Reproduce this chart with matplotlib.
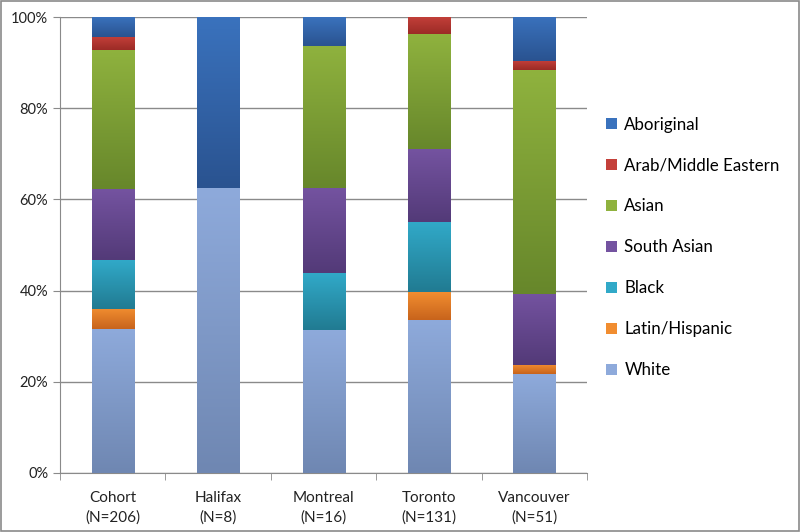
import numpy as np
import matplotlib.pyplot as plt
from matplotlib.colors import LinearSegmentedColormap
from matplotlib.patches import Rectangle

plt.rcParams['font.family'] = ['Lato', 'DejaVu Sans']

sites = ['Cohort\n(N=206)', 'Halifax\n(N=8)', 'Montreal\n(N=16)', 'Toronto\n(N=131)', 'Vancouver\n(N=51)']
groups = ['White', 'Latin/Hispanic', 'Black', 'South Asian', 'Asian', 'Arab/Middle Eastern', 'Aboriginal']

white = [31.6, 62.5, 31.25, 33.6, 21.6]
latin = [4.4, 0, 0, 6.1, 2.0]
black = [10.7, 0, 12.5, 15.3, 0]
south_asian = [15.5, 0, 18.75, 16.0, 15.7]
asian = [30.6, 0, 31.25, 25.2, 49.0]
arab = [2.9, 0, 0, 3.8, 2.0]
aboriginal = [4.4, 37.5, 6.25, 0, 9.8]
series = [white, latin, black, south_asian, asian, arab, aboriginal]

# (light top, dark bottom)
colors = [('#8eaadb', '#6f87b2'), ('#f18d30', '#c8641c'), ('#31a9c8', '#217b92'),
          ('#7453a0', '#533a78'), ('#8fb23e', '#67872b'), ('#c4403a', '#9c2b26'),
          ('#3a72bd', '#2a5390')]

fig = plt.figure(figsize=(8, 5.32), dpi=100)
ax = fig.add_axes([0.075, 0.111, 0.659, 0.857])

x = np.arange(len(sites))
width = 0.4
bottom = np.zeros(len(sites))
handles = []
for vals, name, (c1, c2) in zip(series, groups, colors):
    vals = np.array(vals)
    bars = ax.bar(x, vals, width, bottom=bottom, color=c1, label=name, zorder=2)
    cmap = LinearSegmentedColormap.from_list(name, [c2, c1])
    for b in bars:
        if b.get_height() <= 0:
            continue
        x0, y0 = b.get_x(), b.get_y()
        ax.imshow(np.linspace(0, 1, 100).reshape(-1, 1), cmap=cmap, origin='lower',
                  extent=[x0, x0 + b.get_width(), y0, y0 + b.get_height()],
                  aspect='auto', zorder=3, interpolation='bilinear')
    handles.append(bars)
    bottom += vals

ax.set_xlim(-0.5, len(sites) - 0.5)
ax.set_ylim(0, 100)
ax.set_yticks(np.arange(0, 101, 20))
ax.set_yticklabels([f'{v}%' for v in range(0, 101, 20)])
ax.yaxis.grid(True, color='#8a8a8a', linewidth=1, zorder=0)
ax.set_axisbelow(True)
ax.set_xticks(x)
ax.set_xticklabels(sites, linespacing=1.45)
ax.set_xticks(np.arange(-0.5, len(sites)), minor=True)
ax.tick_params(axis='x', which='major', length=0, pad=13, labelsize=11, colors='#222222')
ax.tick_params(axis='x', which='minor', length=5, color='#8a8a8a', direction='out')
ax.tick_params(axis='y', length=5, color='#8a8a8a', labelsize=10.5, labelcolor='#222222')
for s in ['top', 'right']:
    ax.spines[s].set_visible(False)
for s in ['left', 'bottom']:
    ax.spines[s].set_color('#8a8a8a')

leg = fig.legend(handles[::-1], groups[::-1], loc='center left', bbox_to_anchor=(0.739, 0.535),
                 frameon=False, fontsize=12.2, handlelength=0.6, handleheight=0.6,
                 handletextpad=0.45, labelspacing=1.47)

fig.add_artist(Rectangle((0.001, 0.001), 0.998, 0.997, transform=fig.transFigure,
                         fill=False, edgecolor='#8a8a8a', linewidth=1.2))

plt.savefig('out.png', dpi=100)
